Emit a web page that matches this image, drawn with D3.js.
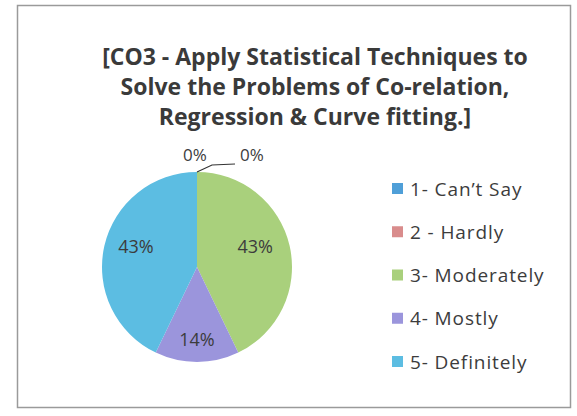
<!DOCTYPE html>
<html><head><meta charset="utf-8">
<script src="https://cdn.jsdelivr.net/npm/d3@7"></script>
<style>body{margin:0;background:#fff}svg{display:block}</style>
</head><body>
<svg id="c" width="577" height="416"></svg>
<script>
const titleLines = ["[CO3 - Apply Statistical Techniques to", "Solve the Problems of Co-relation,", "Regression & Curve fitting.]"];
const categories = ["1- Can\u2019t Say", "2 - Hardly", "3- Moderately", "4- Mostly", "5- Definitely"];
const values = [0, 0, 3, 1, 3];
const sliceColors = ["#4f9fd8", "#d98c8c", "#a9d07c", "#9b95dc", "#5cbde2"];
const legendColors = ["#4f9fd8", "#d98c8c", "#a9d07c", "#9b95dc", "#5cbde2"];

const svg = d3.select("#c");
svg.append("rect").attr("x", 17.5).attr("y", 5.5).attr("width", 553).attr("height", 402)
  .attr("fill", "#fff").attr("stroke", "#9a9a9a").attr("stroke-width", 1.5);

const title = svg.append("text").attr("text-anchor", "middle")
  .attr("font-family", "Open Sans, sans-serif").attr("font-weight", "bold")
  .attr("font-size", 23).attr("fill", "#3a3a3a");
titleLines.forEach((t, i) => title.append("tspan").attr("x", 315).attr("y", 65 + i * 30).text(t));

const cx = 197, cy = 267, r = 95;
const pie = d3.pie().sort(null).value(d => d)(values);
const arc = d3.arc().innerRadius(0).outerRadius(r);
const g = svg.append("g").attr("transform", `translate(${cx},${cy})`);
g.selectAll("path").data(pie).join("path")
  .attr("d", arc).attr("fill", (d, i) => sliceColors[i]);

const total = d3.sum(values);
const fmt = v => Math.round(v / total * 100) + "%";
function labelPos(d) {
  const big = d.value / total > 0.25;
  const p = d3.pointRadial((d.startAngle + d.endAngle) / 2, r * (big ? 0.66 : 0.77));
  return [p[0] + (big && p[0] > 0 ? -3 : 0), p[1] + (big ? -6 : 0)];
}
g.selectAll("text.in").data(pie.filter(d => d.value > 0)).join("text")
  .attr("class", "in")
  .attr("transform", d => `translate(${labelPos(d)})`)
  .attr("text-anchor", "middle").attr("dy", "0.35em")
  .attr("font-family", "Open Sans, sans-serif").attr("font-size", 18)
  .attr("fill", "#3c3c3c").text(d => fmt(d.value));

const zeros = pie.filter(d => d.value === 0);
const zeroPos = [[-2, -112], [55, -112]];
zeros.forEach((d, i) => {
  g.append("text").attr("x", zeroPos[i][0]).attr("y", zeroPos[i][1])
    .attr("text-anchor", "middle").attr("dy", "0.35em")
    .attr("font-family", "Open Sans, sans-serif").attr("font-size", 17)
    .attr("fill", "#3c3c3c").text(fmt(d.value));
});
const topPt = d3.pointRadial(pie[0].startAngle, r);
g.append("path").attr("d", `M${topPt[0]},${topPt[1]} L${topPt[0] + 15},${-102} L${topPt[0] + 38},${-103}`)
  .attr("fill", "none").attr("stroke", "#333").attr("stroke-width", 1.2);

const lg = svg.append("g");
const ly = d3.scalePoint().domain(categories).range([189, 362]);
categories.forEach((c, i) => {
  lg.append("rect").attr("x", 392).attr("y", ly(c) - 6).attr("width", 11).attr("height", 11)
    .attr("fill", legendColors[i]);
  lg.append("text").attr("x", 410).attr("y", ly(c)).attr("dy", "0.35em")
    .attr("font-family", "Open Sans, sans-serif").attr("font-size", 19)
    .attr("letter-spacing", 0.9)
    .attr("fill", "#3c3c3c").text(c);
});
</script>
</body></html>
